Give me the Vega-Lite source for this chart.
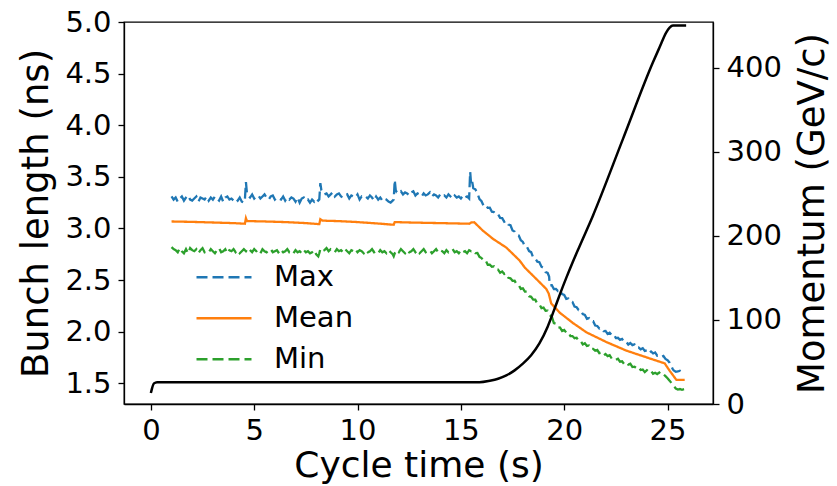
{
"$schema": "https://vega.github.io/schema/vega-lite/v6.json",
"width": 589, "height": 382,
"autosize": {"type": "none"},
"padding": {"left": 124, "top": 22, "right": 124, "bottom": 82},
"background": "white",
"config": {
  "font": "DejaVu Sans",
  "view": {"stroke": "black", "strokeWidth": 1.3},
  "axis": {"grid": false, "domainColor": "black", "domainWidth": 1.3, "tickColor": "black", "tickWidth": 1.3, "tickSize": 6, "labelColor": "black", "titleColor": "black", "labelFontSize": 29, "titleFontSize": 37, "titleFontWeight": "normal", "labelFont": "DejaVu Sans", "titleFont": "DejaVu Sans"},
  "legend": {"symbolType": "stroke", "symbolSize": 3025, "symbolStrokeWidth": 2.5, "labelFontSize": 29, "labelFont": "DejaVu Sans", "labelColor": "black", "labelOffset": 21, "rowPadding": 0, "clipHeight": 40.5}
},
"datasets": {
"bl": [
{"t":1.0,"s":"Max","v":3.31},{"t":1.1,"s":"Max","v":3.28},{"t":1.2,"s":"Max","v":3.30},{"t":1.3,"s":"Max","v":3.26},{"t":1.4,"s":"Max","v":3.29},{"t":1.5,"s":"Max","v":3.31},{"t":1.6,"s":"Max","v":3.27},{"t":1.7,"s":"Max","v":3.30},{"t":1.8,"s":"Max","v":3.32},{"t":1.9,"s":"Max","v":3.28},
{"t":2.0,"s":"Max","v":3.27},{"t":2.1,"s":"Max","v":3.29},{"t":2.2,"s":"Max","v":3.31},{"t":2.3,"s":"Max","v":3.26},{"t":2.4,"s":"Max","v":3.30},{"t":2.5,"s":"Max","v":3.29},{"t":2.6,"s":"Max","v":3.28},{"t":2.7,"s":"Max","v":3.31},{"t":2.8,"s":"Max","v":3.27},{"t":2.9,"s":"Max","v":3.30},
{"t":3.0,"s":"Max","v":3.28},{"t":3.1,"s":"Max","v":3.31},{"t":3.2,"s":"Max","v":3.29},{"t":3.3,"s":"Max","v":3.27},{"t":3.4,"s":"Max","v":3.31},{"t":3.5,"s":"Max","v":3.26},{"t":3.6,"s":"Max","v":3.30},{"t":3.7,"s":"Max","v":3.31},{"t":3.8,"s":"Max","v":3.28},{"t":3.9,"s":"Max","v":3.29},
{"t":4.0,"s":"Max","v":3.27},{"t":4.1,"s":"Max","v":3.29},{"t":4.2,"s":"Max","v":3.27},{"t":4.3,"s":"Max","v":3.30},{"t":4.4,"s":"Max","v":3.26},{"t":4.5,"s":"Max","v":3.25},{"t":4.55,"s":"Max","v":3.28},{"t":4.6,"s":"Max","v":3.45},{"t":4.65,"s":"Max","v":3.34},
{"t":4.7,"s":"Max","v":3.32},{"t":4.8,"s":"Max","v":3.30},{"t":4.9,"s":"Max","v":3.33},{"t":5.0,"s":"Max","v":3.29},{"t":5.1,"s":"Max","v":3.31},{"t":5.2,"s":"Max","v":3.32},{"t":5.3,"s":"Max","v":3.29},{"t":5.4,"s":"Max","v":3.31},{"t":5.5,"s":"Max","v":3.33},{"t":5.6,"s":"Max","v":3.30},
{"t":5.7,"s":"Max","v":3.28},{"t":5.8,"s":"Max","v":3.31},{"t":5.9,"s":"Max","v":3.32},{"t":6.0,"s":"Max","v":3.28},{"t":6.1,"s":"Max","v":3.30},{"t":6.2,"s":"Max","v":3.29},{"t":6.3,"s":"Max","v":3.28},{"t":6.4,"s":"Max","v":3.31},{"t":6.5,"s":"Max","v":3.27},{"t":6.6,"s":"Max","v":3.30},
{"t":6.7,"s":"Max","v":3.28},{"t":6.8,"s":"Max","v":3.30},{"t":6.9,"s":"Max","v":3.29},{"t":7.0,"s":"Max","v":3.26},{"t":7.1,"s":"Max","v":3.30},{"t":7.2,"s":"Max","v":3.25},{"t":7.3,"s":"Max","v":3.29},{"t":7.4,"s":"Max","v":3.30},{"t":7.5,"s":"Max","v":3.27},{"t":7.6,"s":"Max","v":3.28},
{"t":7.7,"s":"Max","v":3.25},{"t":7.8,"s":"Max","v":3.28},{"t":7.9,"s":"Max","v":3.26},{"t":8.0,"s":"Max","v":3.29},{"t":8.1,"s":"Max","v":3.27},{"t":8.15,"s":"Max","v":3.28},{"t":8.2,"s":"Max","v":3.44},{"t":8.25,"s":"Max","v":3.37},
{"t":8.3,"s":"Max","v":3.35},{"t":8.4,"s":"Max","v":3.33},{"t":8.5,"s":"Max","v":3.34},{"t":8.6,"s":"Max","v":3.31},{"t":8.7,"s":"Max","v":3.33},{"t":8.8,"s":"Max","v":3.35},{"t":8.9,"s":"Max","v":3.31},{"t":9.0,"s":"Max","v":3.33},{"t":9.1,"s":"Max","v":3.34},{"t":9.2,"s":"Max","v":3.31},
{"t":9.3,"s":"Max","v":3.30},{"t":9.4,"s":"Max","v":3.32},{"t":9.5,"s":"Max","v":3.33},{"t":9.6,"s":"Max","v":3.29},{"t":9.7,"s":"Max","v":3.32},{"t":9.8,"s":"Max","v":3.31},{"t":9.9,"s":"Max","v":3.30},{"t":10.0,"s":"Max","v":3.33},{"t":10.1,"s":"Max","v":3.28},{"t":10.2,"s":"Max","v":3.31},
{"t":10.3,"s":"Max","v":3.30},{"t":10.4,"s":"Max","v":3.31},{"t":10.5,"s":"Max","v":3.29},{"t":10.6,"s":"Max","v":3.32},{"t":10.7,"s":"Max","v":3.30},{"t":10.8,"s":"Max","v":3.27},{"t":10.9,"s":"Max","v":3.31},{"t":11.0,"s":"Max","v":3.28},{"t":11.1,"s":"Max","v":3.30},{"t":11.2,"s":"Max","v":3.27},
{"t":11.3,"s":"Max","v":3.29},{"t":11.4,"s":"Max","v":3.28},{"t":11.5,"s":"Max","v":3.26},{"t":11.6,"s":"Max","v":3.25},{"t":11.7,"s":"Max","v":3.27},{"t":11.75,"s":"Max","v":3.28},{"t":11.8,"s":"Max","v":3.47},{"t":11.85,"s":"Max","v":3.37},
{"t":11.9,"s":"Max","v":3.35},{"t":12.0,"s":"Max","v":3.34},{"t":12.1,"s":"Max","v":3.36},{"t":12.2,"s":"Max","v":3.33},{"t":12.3,"s":"Max","v":3.35},{"t":12.4,"s":"Max","v":3.34},{"t":12.5,"s":"Max","v":3.32},{"t":12.6,"s":"Max","v":3.35},{"t":12.7,"s":"Max","v":3.36},{"t":12.8,"s":"Max","v":3.32},
{"t":12.9,"s":"Max","v":3.34},{"t":13.0,"s":"Max","v":3.33},{"t":13.1,"s":"Max","v":3.31},{"t":13.2,"s":"Max","v":3.34},{"t":13.3,"s":"Max","v":3.32},{"t":13.4,"s":"Max","v":3.33},{"t":13.5,"s":"Max","v":3.35},{"t":13.6,"s":"Max","v":3.31},{"t":13.7,"s":"Max","v":3.33},{"t":13.8,"s":"Max","v":3.32},
{"t":13.9,"s":"Max","v":3.30},{"t":14.0,"s":"Max","v":3.33},{"t":14.1,"s":"Max","v":3.31},{"t":14.2,"s":"Max","v":3.32},{"t":14.3,"s":"Max","v":3.30},{"t":14.4,"s":"Max","v":3.33},{"t":14.5,"s":"Max","v":3.31},{"t":14.6,"s":"Max","v":3.29},{"t":14.7,"s":"Max","v":3.32},{"t":14.8,"s":"Max","v":3.30},
{"t":14.9,"s":"Max","v":3.31},{"t":15.0,"s":"Max","v":3.29},{"t":15.1,"s":"Max","v":3.32},{"t":15.2,"s":"Max","v":3.30},{"t":15.3,"s":"Max","v":3.31},{"t":15.4,"s":"Max","v":3.29},{"t":15.45,"s":"Max","v":3.55},{"t":15.5,"s":"Max","v":3.42},{"t":15.55,"s":"Max","v":3.45},{"t":15.6,"s":"Max","v":3.39},{"t":15.7,"s":"Max","v":3.38},
{"t":15.8,"s":"Max","v":3.34},{"t":15.9,"s":"Max","v":3.285},{"t":16.0,"s":"Max","v":3.264},{"t":16.1,"s":"Max","v":3.219},{"t":16.2,"s":"Max","v":3.228},{"t":16.3,"s":"Max","v":3.200},{"t":16.4,"s":"Max","v":3.202},{"t":16.5,"s":"Max","v":3.162},{"t":16.6,"s":"Max","v":3.159},{"t":16.7,"s":"Max","v":3.136},
{"t":16.8,"s":"Max","v":3.138},{"t":16.9,"s":"Max","v":3.103},{"t":17.0,"s":"Max","v":3.100},{"t":17.1,"s":"Max","v":3.065},{"t":17.2,"s":"Max","v":3.074},{"t":17.3,"s":"Max","v":3.038},{"t":17.4,"s":"Max","v":3.031},{"t":17.5,"s":"Max","v":2.981},{"t":17.6,"s":"Max","v":2.970},{"t":17.7,"s":"Max","v":2.938},
{"t":17.8,"s":"Max","v":2.932},{"t":17.9,"s":"Max","v":2.886},{"t":18.0,"s":"Max","v":2.870},{"t":18.1,"s":"Max","v":2.824},{"t":18.2,"s":"Max","v":2.820},{"t":18.3,"s":"Max","v":2.781},{"t":18.4,"s":"Max","v":2.771},{"t":18.5,"s":"Max","v":2.719},{"t":18.6,"s":"Max","v":2.709},{"t":18.7,"s":"Max","v":2.678},
{"t":18.8,"s":"Max","v":2.673},{"t":18.9,"s":"Max","v":2.630},{"t":19.0,"s":"Max","v":2.619},{"t":19.1,"s":"Max","v":2.577},{"t":19.2,"s":"Max","v":2.569},{"t":19.27,"s":"Max","v":2.535},{"t":19.3,"s":"Max","v":2.45},{"t":19.4,"s":"Max","v":2.450},{"t":19.5,"s":"Max","v":2.413},{"t":19.6,"s":"Max","v":2.415},
{"t":19.7,"s":"Max","v":2.394},{"t":19.8,"s":"Max","v":2.403},{"t":19.9,"s":"Max","v":2.364},{"t":20.0,"s":"Max","v":2.356},{"t":20.1,"s":"Max","v":2.318},{"t":20.2,"s":"Max","v":2.322},{"t":20.3,"s":"Max","v":2.291},{"t":20.4,"s":"Max","v":2.288},{"t":20.5,"s":"Max","v":2.244},{"t":20.6,"s":"Max","v":2.237},
{"t":20.7,"s":"Max","v":2.210},{"t":20.8,"s":"Max","v":2.209},{"t":20.9,"s":"Max","v":2.170},{"t":21.0,"s":"Max","v":2.162},{"t":21.1,"s":"Max","v":2.125},{"t":21.2,"s":"Max","v":2.132},{"t":21.3,"s":"Max","v":2.102},{"t":21.4,"s":"Max","v":2.102},{"t":21.5,"s":"Max","v":2.060},{"t":21.6,"s":"Max","v":2.056},
{"t":21.7,"s":"Max","v":2.031},{"t":21.8,"s":"Max","v":2.037},{"t":21.9,"s":"Max","v":2.006},{"t":22.0,"s":"Max","v":2.008},{"t":22.1,"s":"Max","v":1.978},{"t":22.2,"s":"Max","v":1.991},{"t":22.3,"s":"Max","v":1.968},{"t":22.4,"s":"Max","v":1.974},{"t":22.5,"s":"Max","v":1.939},{"t":22.6,"s":"Max","v":1.941},
{"t":22.7,"s":"Max","v":1.922},{"t":22.8,"s":"Max","v":1.931},{"t":22.9,"s":"Max","v":1.902},{"t":23.0,"s":"Max","v":1.904},{"t":23.1,"s":"Max","v":1.876},{"t":23.2,"s":"Max","v":1.891},{"t":23.3,"s":"Max","v":1.870},{"t":23.4,"s":"Max","v":1.877},{"t":23.5,"s":"Max","v":1.843},{"t":23.6,"s":"Max","v":1.847},
{"t":23.7,"s":"Max","v":1.830},{"t":23.8,"s":"Max","v":1.841},{"t":23.9,"s":"Max","v":1.814},{"t":24.0,"s":"Max","v":1.819},{"t":24.1,"s":"Max","v":1.792},{"t":24.2,"s":"Max","v":1.809},{"t":24.3,"s":"Max","v":1.790},{"t":24.4,"s":"Max","v":1.800},{"t":24.5,"s":"Max","v":1.768},{"t":24.6,"s":"Max","v":1.773},
{"t":24.7,"s":"Max","v":1.757},{"t":24.8,"s":"Max","v":1.765},{"t":24.9,"s":"Max","v":1.736},{"t":25.0,"s":"Max","v":1.725},{"t":25.1,"s":"Max","v":1.70},{"t":25.2,"s":"Max","v":1.66},{"t":25.26,"s":"Max","v":1.635},{"t":25.3,"s":"Max","v":1.625},{"t":25.4,"s":"Max","v":1.612},{"t":25.5,"s":"Max","v":1.615},{"t":25.6,"s":"Max","v":1.622},{"t":25.7,"s":"Max","v":1.61},{"t":25.8,"s":"Max","v":1.62},

{"t":1.0,"s":"Mean","v":3.068},{"t":2.0,"s":"Mean","v":3.064},{"t":3.0,"s":"Mean","v":3.058},{"t":4.0,"s":"Mean","v":3.052},{"t":4.55,"s":"Mean","v":3.046},{"t":4.6,"s":"Mean","v":3.10},{"t":4.65,"s":"Mean","v":3.072},{"t":5.5,"s":"Mean","v":3.068},{"t":6.5,"s":"Mean","v":3.062},{"t":7.5,"s":"Mean","v":3.052},
{"t":8.15,"s":"Mean","v":3.042},{"t":8.2,"s":"Mean","v":3.09},{"t":8.3,"s":"Mean","v":3.076},{"t":9.0,"s":"Mean","v":3.072},{"t":10.0,"s":"Mean","v":3.062},{"t":11.0,"s":"Mean","v":3.048},{"t":11.75,"s":"Mean","v":3.036},{"t":11.8,"s":"Mean","v":3.062},{"t":12.5,"s":"Mean","v":3.058},{"t":13.5,"s":"Mean","v":3.054},
{"t":14.5,"s":"Mean","v":3.05},{"t":15.4,"s":"Mean","v":3.046},{"t":15.5,"s":"Mean","v":3.058},{"t":15.65,"s":"Mean","v":3.06},{"t":15.75,"s":"Mean","v":3.04},{"t":16.06,"s":"Mean","v":2.98},{"t":16.55,"s":"Mean","v":2.90},{"t":17.2,"s":"Mean","v":2.815},{"t":17.84,"s":"Mean","v":2.69},{"t":18.1,"s":"Mean","v":2.62},
{"t":18.48,"s":"Mean","v":2.545},{"t":19.13,"s":"Mean","v":2.415},{"t":19.25,"s":"Mean","v":2.37},{"t":19.37,"s":"Mean","v":2.275},{"t":19.78,"s":"Mean","v":2.185},{"t":20.42,"s":"Mean","v":2.085},{"t":21.07,"s":"Mean","v":1.995},{"t":22.04,"s":"Mean","v":1.90},{"t":23.01,"s":"Mean","v":1.817},{"t":23.98,"s":"Mean","v":1.752},
{"t":24.86,"s":"Mean","v":1.694},{"t":25.1,"s":"Mean","v":1.623},{"t":25.43,"s":"Mean","v":1.533},{"t":25.83,"s":"Mean","v":1.533},

{"t":1.0,"s":"Min","v":2.82},{"t":1.1,"s":"Min","v":2.80},{"t":1.2,"s":"Min","v":2.79},{"t":1.3,"s":"Min","v":2.77},{"t":1.4,"s":"Min","v":2.81},{"t":1.5,"s":"Min","v":2.78},{"t":1.6,"s":"Min","v":2.76},{"t":1.7,"s":"Min","v":2.80},{"t":1.8,"s":"Min","v":2.76},{"t":1.9,"s":"Min","v":2.81},
{"t":2.0,"s":"Min","v":2.79},{"t":2.1,"s":"Min","v":2.78},{"t":2.2,"s":"Min","v":2.80},{"t":2.3,"s":"Min","v":2.76},{"t":2.4,"s":"Min","v":2.79},{"t":2.5,"s":"Min","v":2.81},{"t":2.6,"s":"Min","v":2.77},{"t":2.7,"s":"Min","v":2.78},{"t":2.8,"s":"Min","v":2.77},{"t":2.9,"s":"Min","v":2.80},
{"t":3.0,"s":"Min","v":2.78},{"t":3.1,"s":"Min","v":2.76},{"t":3.2,"s":"Min","v":2.79},{"t":3.3,"s":"Min","v":2.81},{"t":3.4,"s":"Min","v":2.77},{"t":3.5,"s":"Min","v":2.78},{"t":3.6,"s":"Min","v":2.80},{"t":3.7,"s":"Min","v":2.76},{"t":3.8,"s":"Min","v":2.79},{"t":3.9,"s":"Min","v":2.78},
{"t":4.0,"s":"Min","v":2.80},{"t":4.1,"s":"Min","v":2.77},{"t":4.2,"s":"Min","v":2.79},{"t":4.3,"s":"Min","v":2.76},{"t":4.4,"s":"Min","v":2.78},{"t":4.5,"s":"Min","v":2.80},{"t":4.6,"s":"Min","v":2.78},{"t":4.7,"s":"Min","v":2.81},{"t":4.8,"s":"Min","v":2.79},{"t":4.9,"s":"Min","v":2.77},
{"t":5.0,"s":"Min","v":2.80},{"t":5.1,"s":"Min","v":2.78},{"t":5.2,"s":"Min","v":2.79},{"t":5.3,"s":"Min","v":2.76},{"t":5.4,"s":"Min","v":2.80},{"t":5.5,"s":"Min","v":2.78},{"t":5.6,"s":"Min","v":2.77},{"t":5.7,"s":"Min","v":2.79},{"t":5.8,"s":"Min","v":2.80},{"t":5.9,"s":"Min","v":2.77},
{"t":6.0,"s":"Min","v":2.78},{"t":6.1,"s":"Min","v":2.79},{"t":6.2,"s":"Min","v":2.76},{"t":6.3,"s":"Min","v":2.79},{"t":6.4,"s":"Min","v":2.77},{"t":6.5,"s":"Min","v":2.78},{"t":6.6,"s":"Min","v":2.80},{"t":6.7,"s":"Min","v":2.77},{"t":6.8,"s":"Min","v":2.78},{"t":6.9,"s":"Min","v":2.76},
{"t":7.0,"s":"Min","v":2.79},{"t":7.1,"s":"Min","v":2.77},{"t":7.2,"s":"Min","v":2.78},{"t":7.3,"s":"Min","v":2.76},{"t":7.4,"s":"Min","v":2.79},{"t":7.5,"s":"Min","v":2.77},{"t":7.6,"s":"Min","v":2.78},{"t":7.7,"s":"Min","v":2.76},{"t":7.8,"s":"Min","v":2.77},{"t":7.9,"s":"Min","v":2.79},
{"t":8.0,"s":"Min","v":2.75},{"t":8.1,"s":"Min","v":2.73},{"t":8.15,"s":"Min","v":2.76},{"t":8.2,"s":"Min","v":2.80},{"t":8.3,"s":"Min","v":2.78},{"t":8.4,"s":"Min","v":2.79},{"t":8.5,"s":"Min","v":2.81},{"t":8.6,"s":"Min","v":2.78},{"t":8.7,"s":"Min","v":2.80},{"t":8.8,"s":"Min","v":2.79},
{"t":8.9,"s":"Min","v":2.77},{"t":9.0,"s":"Min","v":2.80},{"t":9.1,"s":"Min","v":2.78},{"t":9.2,"s":"Min","v":2.79},{"t":9.3,"s":"Min","v":2.77},{"t":9.4,"s":"Min","v":2.80},{"t":9.5,"s":"Min","v":2.78},{"t":9.6,"s":"Min","v":2.76},{"t":9.7,"s":"Min","v":2.79},{"t":9.8,"s":"Min","v":2.78},
{"t":9.9,"s":"Min","v":2.80},{"t":10.0,"s":"Min","v":2.77},{"t":10.1,"s":"Min","v":2.79},{"t":10.2,"s":"Min","v":2.78},{"t":10.3,"s":"Min","v":2.76},{"t":10.4,"s":"Min","v":2.79},{"t":10.5,"s":"Min","v":2.77},{"t":10.6,"s":"Min","v":2.78},{"t":10.7,"s":"Min","v":2.80},{"t":10.8,"s":"Min","v":2.77},
{"t":10.9,"s":"Min","v":2.78},{"t":11.0,"s":"Min","v":2.76},{"t":11.1,"s":"Min","v":2.79},{"t":11.2,"s":"Min","v":2.77},{"t":11.3,"s":"Min","v":2.78},{"t":11.4,"s":"Min","v":2.76},{"t":11.5,"s":"Min","v":2.79},{"t":11.6,"s":"Min","v":2.77},{"t":11.7,"s":"Min","v":2.75},{"t":11.75,"s":"Min","v":2.73},
{"t":11.8,"s":"Min","v":2.76},{"t":11.9,"s":"Min","v":2.79},{"t":12.0,"s":"Min","v":2.77},{"t":12.1,"s":"Min","v":2.80},{"t":12.2,"s":"Min","v":2.78},{"t":12.3,"s":"Min","v":2.76},{"t":12.4,"s":"Min","v":2.79},{"t":12.5,"s":"Min","v":2.77},{"t":12.6,"s":"Min","v":2.78},{"t":12.7,"s":"Min","v":2.80},
{"t":12.8,"s":"Min","v":2.77},{"t":12.9,"s":"Min","v":2.79},{"t":13.0,"s":"Min","v":2.76},{"t":13.1,"s":"Min","v":2.78},{"t":13.2,"s":"Min","v":2.80},{"t":13.3,"s":"Min","v":2.77},{"t":13.4,"s":"Min","v":2.78},{"t":13.5,"s":"Min","v":2.79},{"t":13.6,"s":"Min","v":2.76},{"t":13.7,"s":"Min","v":2.78},
{"t":13.8,"s":"Min","v":2.80},{"t":13.9,"s":"Min","v":2.77},{"t":14.0,"s":"Min","v":2.79},{"t":14.1,"s":"Min","v":2.78},{"t":14.2,"s":"Min","v":2.76},{"t":14.3,"s":"Min","v":2.79},{"t":14.4,"s":"Min","v":2.77},{"t":14.5,"s":"Min","v":2.78},{"t":14.6,"s":"Min","v":2.80},{"t":14.7,"s":"Min","v":2.77},
{"t":14.8,"s":"Min","v":2.78},{"t":14.9,"s":"Min","v":2.76},{"t":15.0,"s":"Min","v":2.79},{"t":15.1,"s":"Min","v":2.77},{"t":15.2,"s":"Min","v":2.78},{"t":15.3,"s":"Min","v":2.76},{"t":15.4,"s":"Min","v":2.79},{"t":15.5,"s":"Min","v":2.78},
{"t":15.6,"s":"Min","v":2.787},{"t":15.7,"s":"Min","v":2.762},{"t":15.8,"s":"Min","v":2.764},{"t":15.9,"s":"Min","v":2.725},{"t":16.0,"s":"Min","v":2.714},{"t":16.1,"s":"Min","v":2.687},{"t":16.2,"s":"Min","v":2.689},{"t":16.3,"s":"Min","v":2.649},{"t":16.4,"s":"Min","v":2.650},{"t":16.5,"s":"Min","v":2.629},
{"t":16.6,"s":"Min","v":2.634},{"t":16.7,"s":"Min","v":2.602},{"t":16.8,"s":"Min","v":2.602},{"t":16.9,"s":"Min","v":2.571},{"t":17.0,"s":"Min","v":2.583},{"t":17.1,"s":"Min","v":2.559},{"t":17.2,"s":"Min","v":2.564},{"t":17.3,"s":"Min","v":2.522},{"t":17.4,"s":"Min","v":2.518},{"t":17.5,"s":"Min","v":2.493},
{"t":17.6,"s":"Min","v":2.494},{"t":17.7,"s":"Min","v":2.457},{"t":17.8,"s":"Min","v":2.452},{"t":17.9,"s":"Min","v":2.415},{"t":18.0,"s":"Min","v":2.420},{"t":18.1,"s":"Min","v":2.389},{"t":18.2,"s":"Min","v":2.388},{"t":18.3,"s":"Min","v":2.344},{"t":18.4,"s":"Min","v":2.338},{"t":18.5,"s":"Min","v":2.311},
{"t":18.6,"s":"Min","v":2.310},{"t":18.7,"s":"Min","v":2.272},{"t":18.8,"s":"Min","v":2.265},{"t":18.9,"s":"Min","v":2.228},{"t":19.0,"s":"Min","v":2.233},{"t":19.1,"s":"Min","v":2.203},{"t":19.2,"s":"Min","v":2.204},{"t":19.3,"s":"Min","v":2.159},{"t":19.4,"s":"Min","v":2.147},{"t":19.5,"s":"Min","v":2.084},
{"t":19.6,"s":"Min","v":2.077},{"t":19.7,"s":"Min","v":2.042},{"t":19.8,"s":"Min","v":2.040},{"t":19.9,"s":"Min","v":2.007},{"t":20.0,"s":"Min","v":2.017},{"t":20.1,"s":"Min","v":1.992},{"t":20.2,"s":"Min","v":1.996},{"t":20.3,"s":"Min","v":1.958},{"t":20.4,"s":"Min","v":1.958},{"t":20.5,"s":"Min","v":1.937},
{"t":20.6,"s":"Min","v":1.942},{"t":20.7,"s":"Min","v":1.909},{"t":20.8,"s":"Min","v":1.909},{"t":20.9,"s":"Min","v":1.877},{"t":21.0,"s":"Min","v":1.888},{"t":21.1,"s":"Min","v":1.863},{"t":21.2,"s":"Min","v":1.867},{"t":21.3,"s":"Min","v":1.832},{"t":21.4,"s":"Min","v":1.834},{"t":21.5,"s":"Min","v":1.816},
{"t":21.6,"s":"Min","v":1.823},{"t":21.7,"s":"Min","v":1.792},{"t":21.8,"s":"Min","v":1.796},{"t":21.9,"s":"Min","v":1.769},{"t":22.0,"s":"Min","v":1.784},{"t":22.1,"s":"Min","v":1.764},{"t":22.2,"s":"Min","v":1.773},{"t":22.3,"s":"Min","v":1.740},{"t":22.4,"s":"Min","v":1.745},{"t":22.5,"s":"Min","v":1.728},
{"t":22.6,"s":"Min","v":1.738},{"t":22.7,"s":"Min","v":1.710},{"t":22.8,"s":"Min","v":1.714},{"t":22.9,"s":"Min","v":1.687},{"t":23.0,"s":"Min","v":1.702},{"t":23.1,"s":"Min","v":1.682},{"t":23.2,"s":"Min","v":1.691},{"t":23.3,"s":"Min","v":1.658},{"t":23.4,"s":"Min","v":1.662},{"t":23.5,"s":"Min","v":1.646},
{"t":23.6,"s":"Min","v":1.656},{"t":23.7,"s":"Min","v":1.629},{"t":23.8,"s":"Min","v":1.634},{"t":23.9,"s":"Min","v":1.609},{"t":24.0,"s":"Min","v":1.627},{"t":24.1,"s":"Min","v":1.610},{"t":24.2,"s":"Min","v":1.622},{"t":24.3,"s":"Min","v":1.593},{"t":24.4,"s":"Min","v":1.602},{"t":24.5,"s":"Min","v":1.590},
{"t":24.6,"s":"Min","v":1.604},{"t":24.7,"s":"Min","v":1.581},{"t":24.8,"s":"Min","v":1.589},{"t":24.9,"s":"Min","v":1.57},{"t":25.0,"s":"Min","v":1.55},{"t":25.1,"s":"Min","v":1.526},{"t":25.2,"s":"Min","v":1.50},{"t":25.3,"s":"Min","v":1.473},{"t":25.4,"s":"Min","v":1.45},{"t":25.5,"s":"Min","v":1.44},
{"t":25.6,"s":"Min","v":1.445},{"t":25.7,"s":"Min","v":1.438},{"t":25.8,"s":"Min","v":1.443}
],
"mom": [
{"t":0,"p":13},{"t":0.05,"p":18},{"t":0.15,"p":24.5},{"t":0.3,"p":26},{"t":15.9,"p":26},{"t":16.4,"p":27.7},{"t":16.8,"p":30},{"t":17.2,"p":34},{"t":17.6,"p":40},{"t":18.0,"p":48},
{"t":18.4,"p":58},{"t":18.8,"p":72},{"t":19.2,"p":92},{"t":19.5,"p":111},{"t":19.8,"p":131},{"t":20.1,"p":150},{"t":20.4,"p":168},{"t":20.75,"p":188},{"t":21.39,"p":224},{"t":22.84,"p":315},
{"t":24.3,"p":406.7},{"t":24.62,"p":424.5},{"t":24.94,"p":442},{"t":25.1,"p":447.5},{"t":25.26,"p":450},{"t":25.9,"p":450}
]
},
"layer": [
  {
    "data": {"name": "bl"},
    "mark": {"type": "line", "strokeWidth": 2.3},
    "encoding": {
      "x": {"field": "t", "type": "quantitative", "scale": {"domain": [-1.3, 27.2], "nice": false, "zero": false}, "axis": {"values": [0, 5, 10, 15, 20, 25], "title": "Cycle time (s)", "labelPadding": 6, "titlePadding": 3, "titleFontSize": 36}},
      "y": {"field": "v", "type": "quantitative", "scale": {"domain": [1.3, 5.0], "nice": false, "zero": false}, "axis": {"values": [1.5, 2, 2.5, 3, 3.5, 4, 4.5, 5], "format": ".1f", "title": "Bunch length (ns)", "labelPadding": 7, "titlePadding": 9}},
      "color": {"field": "s", "type": "nominal", "scale": {"domain": ["Max", "Mean", "Min"], "range": ["#1f77b4", "#ff7f0e", "#2ca02c"]}, "legend": {"title": null, "orient": "none", "legendX": 71, "legendY": 235}},
      "strokeDash": {"field": "s", "type": "nominal", "scale": {"domain": ["Max", "Mean", "Min"], "range": [[11, 5], [1, 0], [11, 5]]}, "legend": {"title": null, "orient": "none", "legendX": 71, "legendY": 235}}
    }
  },
  {
    "data": {"name": "mom"},
    "mark": {"type": "line", "color": "black", "strokeWidth": 2.5, "interpolate": "monotone"},
    "encoding": {
      "x": {"field": "t", "type": "quantitative"},
      "y": {"field": "p", "type": "quantitative", "scale": {"domain": [0, 454.3], "nice": false, "zero": false}, "axis": {"orient": "right", "values": [0, 100, 200, 300, 400], "title": "Momentum (GeV/c)", "labelPadding": 7, "titlePadding": 13, "titleAngle": 270, "titleBaseline": "top"}}
    }
  }
],
"resolve": {"scale": {"y": "independent"}}
}
